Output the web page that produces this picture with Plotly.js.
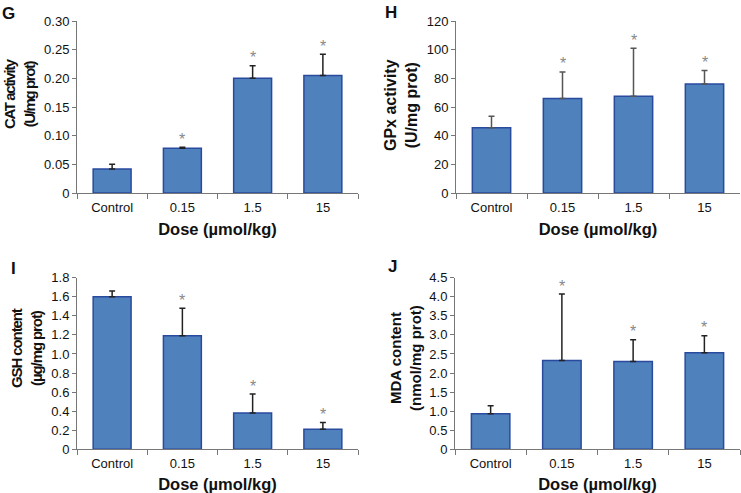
<!DOCTYPE html>
<html>
<head>
<meta charset="utf-8">
<script src="https://cdn.plot.ly/plotly-3.0.1.min.js"></script>
<style>html,body{margin:0;padding:0;background:#fff;}#chart{width:741px;height:493px;}</style>
</head>
<body>
<div id="chart"></div>
<script>
var categories = ['Control', '0.15', '1.5', '15'];

var catMean = [0.042, 0.078, 0.200, 0.205];
var catErr  = [0.008, 0.002, 0.022, 0.037];
var catSig  = [false, true, true, true];

var gpxMean = [45.5, 66, 67.5, 76];
var gpxErr  = [8, 18.5, 33.5, 9.5];
var gpxSig  = [false, true, true, true];

var gshMean = [1.60, 1.19, 0.38, 0.21];
var gshErr  = [0.06, 0.29, 0.20, 0.07];
var gshSig  = [false, true, true, true];

var mdaMean = [0.93, 2.33, 2.30, 2.53];
var mdaErr  = [0.21, 1.74, 0.57, 0.45];
var mdaSig  = [false, true, true, true];

var catTicks = [0, 0.05, 0.10, 0.15, 0.20, 0.25, 0.30];
var catTickText = ['0', '0.05', '0.10', '0.15', '0.20', '0.25', '0.30'];
var gpxTicks = [0, 20, 40, 60, 80, 100, 120];
var gpxTickText = ['0', '20', '40', '60', '80', '100', '120'];
var gshTicks = [0, 0.2, 0.4, 0.6, 0.8, 1.0, 1.2, 1.4, 1.6, 1.8];
var gshTickText = ['0', '0.2', '0.4', '0.6', '0.8', '1.0', '1.2', '1.4', '1.6', '1.8'];
var mdaTicks = [0, 0.5, 1.0, 1.5, 2.0, 2.5, 3.0, 3.5, 4.0, 4.5];
var mdaTickText = ['0', '0.5', '1.0', '1.5', '2.0', '2.5', '3.0', '3.5', '4.0', '4.5'];

var panelLabels = ['G', 'H', 'I', 'J'];
var yTitleLines = [['CAT activity', '(U/mg prot)'], ['GPx activity', '(U/mg prot)'],
                   ['GSH content', '(µg/mg prot)'], ['MDA content', '(nmol/mg prot)']];
var xTitle = 'Dose (µmol/kg)';

var W = 741, H = 493;
var FONT = 'Liberation Sans, Arial, sans-serif';

var panels = [
  {mean: catMean, err: catErr, sig: catSig, ticks: catTicks, text: catTickText, range: [0, 0.30],
   px: [77, 358], py: [21, 193], errColor: '#222', label: [0, 2], yt: [20, 94], ytSize: 15, ls: -1.4},
  {mean: gpxMean, err: gpxErr, sig: gpxSig, ticks: gpxTicks, text: gpxTickText, range: [0, 120],
   px: [456, 740], py: [21, 193], errColor: '#555', label: [383, 1], yt: [401, 105], ytSize: 16, ls: 0},
  {mean: gshMean, err: gshErr, sig: gshSig, ticks: gshTicks, text: gshTickText, range: [0, 1.8],
   px: [77, 358], py: [277.7, 449.3], errColor: '#222', label: [9, 257], yt: [26, 348], ytSize: 15, ls: -1.1},
  {mean: mdaMean, err: mdaErr, sig: mdaSig, ticks: mdaTicks, text: mdaTickText, range: [0, 4.5],
   px: [455, 740], py: [277.7, 449.3], errColor: '#222', label: [386, 255], yt: [405, 358], ytSize: 15, ls: 0}
];

var traces = [];
var layout = {
  width: W, height: H,
  margin: {l: 0, r: 0, t: 0, b: 0},
  paper_bgcolor: '#fff', plot_bgcolor: '#fff',
  showlegend: false,
  font: {family: FONT, size: 13, color: '#111'},
  annotations: []
};

panels.forEach(function (p, i) {
  var n = i === 0 ? '' : String(i + 1);
  traces.push({
    type: 'bar',
    x: categories, y: p.mean,
    xaxis: 'x' + n, yaxis: 'y' + n,
    width: 0.54,
    marker: {color: '#4F81BD', line: {color: '#2A4A9E', width: 1.5}},
    error_y: {type: 'data', array: p.err, symmetric: false, arrayminus: p.mean.map(function(){return 0;}),
              color: p.errColor, thickness: 1.5, width: 3},
    hoverinfo: 'skip'
  });
  layout['xaxis' + n] = {
    domain: [p.px[0] / W, p.px[1] / W],
    anchor: 'y' + n,
    type: 'category',
    categoryorder: 'array', categoryarray: categories,
    range: [-0.5, categories.length - 0.5],
    tickangle: 0,
    showline: true, linecolor: '#777', linewidth: 1,
    ticks: 'outside', tickson: 'boundaries', ticklen: 5, tickcolor: '#777',
    ticklabelstandoff: 2,
    showgrid: false, zeroline: false,
    tickfont: {family: FONT, size: 13, color: '#111'},
    title: {text: xTitle, font: {family: FONT, size: 16.5, color: '#111', weight: 'bold'}, standoff: 9}
  };
  layout['yaxis' + n] = {
    domain: [1 - p.py[1] / H, 1 - p.py[0] / H],
    anchor: 'x' + n,
    range: p.range,
    tickvals: p.ticks, ticktext: p.text,
    showline: true, linecolor: '#777', linewidth: 1,
    ticks: 'outside', ticklen: 4, tickcolor: '#777',
    showgrid: false, zeroline: false,
    tickfont: {family: FONT, size: 13, color: '#111'}
  };
  var titleText = yTitleLines[i].map(function (s) {
    return p.ls ? '<span style="font-weight:bold;letter-spacing:' + p.ls + 'px">' + s + '</span>' : s;
  }).join('<br>');
  layout.annotations.push({
    xref: 'paper', yref: 'paper',
    x: p.yt[0] / W, y: 1 - p.yt[1] / H,
    xanchor: 'center', yanchor: 'middle',
    textangle: -90,
    text: titleText, showarrow: false,
    font: {family: FONT, size: p.ytSize, color: '#111', weight: 'bold'}
  });
  layout.annotations.push({
    xref: 'paper', yref: 'paper',
    x: p.label[0] / W, y: 1 - p.label[1] / H,
    xanchor: 'left', yanchor: 'top',
    text: '<b>' + panelLabels[i] + '</b>', showarrow: false,
    font: {family: FONT, size: 17, color: '#111'}
  });
  categories.forEach(function (c, k) {
    if (p.sig[k]) {
      layout.annotations.push({
        xref: 'x' + n, yref: 'y' + n,
        x: k, y: p.mean[k] + p.err[k],
        yshift: 8, showarrow: false, text: '*',
        font: {family: FONT, size: 16, color: '#888'}
      });
    }
  });
});

Plotly.newPlot('chart', traces, layout, {staticPlot: true, displayModeBar: false});
</script>
</body>
</html>
